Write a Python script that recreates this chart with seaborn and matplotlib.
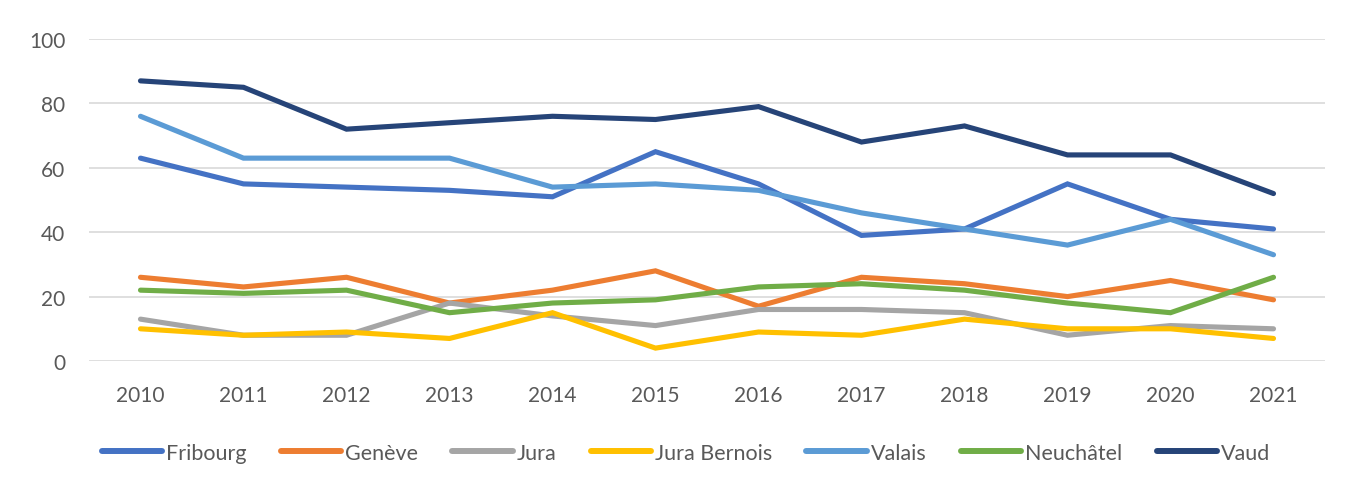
import matplotlib
matplotlib.use('Agg')
import matplotlib.pyplot as plt
import seaborn as sns
import pandas as pd

sns.set_style("white")
plt.rcParams['font.family'] = ['Lato', 'DejaVu Sans']

years = [2010, 2011, 2012, 2013, 2014, 2015, 2016, 2017, 2018, 2019, 2020, 2021]
fribourg = [63, 55, 54, 53, 51, 65, 55, 39, 41, 55, 44, 41]
geneve = [26, 23, 26, 18, 22, 28, 17, 26, 24, 20, 25, 19]
jura = [13, 8, 8, 18, 14, 11, 16, 16, 15, 8, 11, 10]
jura_bernois = [10, 8, 9, 7, 15, 4, 9, 8, 13, 10, 10, 7]
valais = [76, 63, 63, 63, 54, 55, 53, 46, 41, 36, 44, 33]
neuchatel = [22, 21, 22, 15, 18, 19, 23, 24, 22, 18, 15, 26]
vaud = [87, 85, 72, 74, 76, 75, 79, 68, 73, 64, 64, 52]

series = {
    'Fribourg': fribourg,
    'Genève': geneve,
    'Jura': jura,
    'Jura Bernois': jura_bernois,
    'Valais': valais,
    'Neuchâtel': neuchatel,
    'Vaud': vaud,
}
colors = ['#4472C4', '#ED7D31', '#A5A5A5', '#FFC000', '#5B9BD5', '#70AD47', '#264478']

rows = []
for name, vals in series.items():
    for i, v in enumerate(vals):
        rows.append({'pos': i, 'year': years[i], 'region': name, 'value': v})
df = pd.DataFrame(rows)

fig = plt.figure(figsize=(13.49, 4.89), dpi=100)
ax = fig.add_axes([89/1349, 1-362/489, (1325-89)/1349, (362-40)/489])

sns.lineplot(data=df, x='pos', y='value', hue='region', palette=colors,
             hue_order=list(series.keys()), lw=3.7, ax=ax, legend=False,
             solid_capstyle='round', solid_joinstyle='miter')

ax.set_xlim(-0.5, len(years) - 0.5)
ax.set_ylim(0, 100)
ax.set_yticks(range(0, 101, 20))
ax.set_xticks(range(len(years)))
ax.set_xticklabels([str(y) for y in years])
ax.set_xlabel('')
ax.set_ylabel('')
ax.grid(axis='y', color='#D9D9D9', lw=1.2)
ax.set_axisbelow(True)
for s in ax.spines.values():
    s.set_visible(False)
ax.tick_params(axis='both', length=0, labelsize=15, colors='#595959')
ax.tick_params(axis='y', pad=17)
ax.tick_params(axis='x', pad=17)

handles = [plt.Line2D([], [], color=c, lw=4.3, solid_capstyle='round') for c in colors]
fig.legend(handles, list(series.keys()), loc='center', ncol=7,
           bbox_to_anchor=(686/1349, 1-454/489), frameon=False,
           fontsize=15.5, labelcolor='#595959', handlelength=2.8,
           handletextpad=0.2, columnspacing=1.58)

plt.savefig('out.png', dpi=100)
plt.close()
